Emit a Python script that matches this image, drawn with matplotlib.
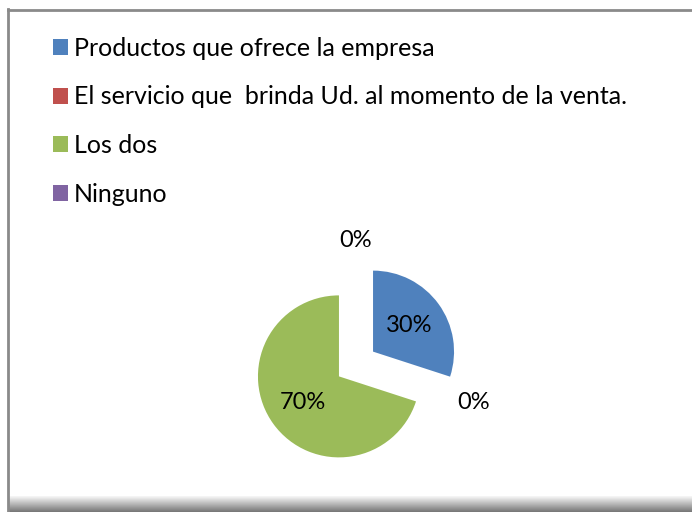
import numpy as np
import matplotlib
matplotlib.use("Agg")
import matplotlib.pyplot as plt
from matplotlib.patches import Patch

W, H = 692, 512
DPI = 100

categories = ["Productos que ofrece la empresa",
              "El servicio que  brinda Ud. al momento de la venta.",
              "Los dos",
              "Ninguno"]
values = [30, 0, 70, 0]
colors = ["#4F81BD", "#C0504D", "#9BBB59", "#8064A2"]

plt.rcParams["font.family"] = ["Lato", "DejaVu Sans"]

fig = plt.figure(figsize=(W / DPI, H / DPI), dpi=DPI)
fig.patch.set_facecolor("white")

# frame: left + top border, shadow at bottom
fig.add_artist(plt.Line2D([8 / W, 8 / W], [0, 1 - 9 / H], color="#8a8a8a", lw=2))
fig.add_artist(plt.Line2D([8 / W, 1], [1 - 9.5 / H, 1 - 9.5 / H], color="#8a8a8a", lw=2))
sh = fig.add_axes([9 / W, 0, 1 - 9 / W, 16 / H])
grad = np.linspace(1, 0, 64).reshape(-1, 1)
sh.imshow(grad, aspect="auto", cmap="gray", vmin=-0.9, vmax=1.05,
          extent=[0, 1, 0, 1], interpolation="bicubic")
sh.set_axis_off()

# pie
R = 81
cx, cy = 356, 364
ax = fig.add_axes([(cx - 2 * R) / W, (H - cy - 2 * R) / H, 4 * R / W, 4 * R / H])
wedges, texts, autotexts = ax.pie(
    values, colors=colors, startangle=90, counterclock=False,
    explode=[0.26] * 4, autopct="%1.0f%%", pctdistance=0.55,
    textprops={"fontsize": 17, "color": "black"},
    wedgeprops={"linewidth": 0})
for w, t, v in zip(wedges, autotexts, values):
    if v == 0:
        ang = np.deg2rad(w.theta1)
        x0, y0 = w.center
        t.set_position((x0 + 1.27 * np.cos(ang), y0 + 1.27 * np.sin(ang)))
ax.set_xlim(-2, 2)
ax.set_ylim(-2, 2)
ax.set_axis_off()

handles = [Patch(facecolor=c, edgecolor="none") for c in colors]
fig.legend(handles, categories, loc="upper left",
           bbox_to_anchor=(53 / W, 1 - 37 / H), frameon=False,
           fontsize=18, handlelength=0.6, handleheight=0.6,
           handletextpad=0.25, labelspacing=1.02, borderpad=0, borderaxespad=0)

fig.savefig("out.png", dpi=DPI)
